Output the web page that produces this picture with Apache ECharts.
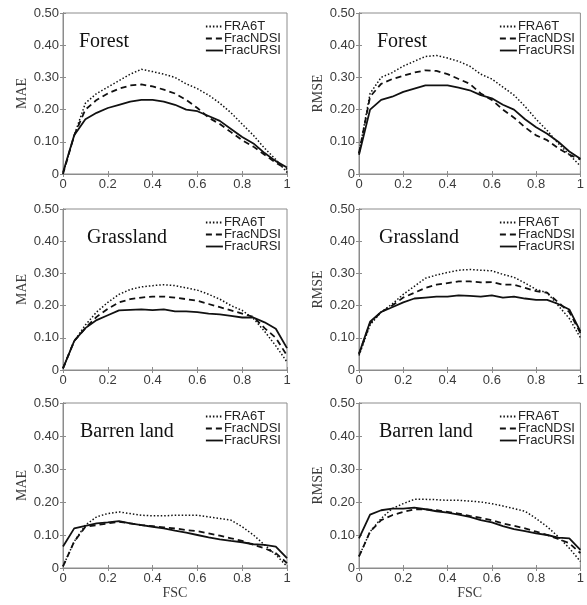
<!DOCTYPE html>
<html>
<head>
<meta charset="utf-8">
<script src="https://cdn.jsdelivr.net/npm/echarts@6/dist/echarts.min.js"></script>
<style>
  html, body { margin: 0; padding: 0; background: #fff; }
  #chart { width: 587px; height: 605px; }
</style>
</head>
<body>
<div id="chart"></div>
<script>
// FSC bins
var fsc = [0, 0.05, 0.1, 0.15, 0.2, 0.25, 0.3, 0.35, 0.4, 0.45, 0.5,
           0.55, 0.6, 0.65, 0.7, 0.75, 0.8, 0.85, 0.9, 0.95, 1]
var seriesNames = ['FRA6T', 'FracNDSI', 'FracURSI']
var panelTitles = ['Forest', 'Forest', 'Grassland', 'Grassland', 'Barren land', 'Barren land']
var metricNames = ['MAE', 'RMSE', 'MAE', 'RMSE', 'MAE', 'RMSE']
var yTicks = [0, 0.1, 0.2, 0.3, 0.4, 0.5]
var xTicks = [0, 0.2, 0.4, 0.6, 0.8, 1]

// Forest
var forestMaeFRA6T = [0, 0.12, 0.22, 0.25, 0.27, 0.29, 0.31, 0.325, 0.318, 0.31, 0.3, 0.28, 0.265, 0.245, 0.22, 0.19, 0.155, 0.12, 0.08, 0.045, 0.005]
var forestMaeNDSI  = [0, 0.12, 0.2, 0.23, 0.25, 0.265, 0.275, 0.278, 0.272, 0.262, 0.25, 0.23, 0.205, 0.175, 0.155, 0.13, 0.105, 0.085, 0.06, 0.035, 0.015]
var forestMaeURSI  = [0.005, 0.12, 0.17, 0.19, 0.205, 0.215, 0.225, 0.23, 0.23, 0.225, 0.215, 0.2, 0.195, 0.18, 0.165, 0.14, 0.115, 0.095, 0.065, 0.04, 0.02]
var forestRmseFRA6T = [0.065, 0.25, 0.3, 0.315, 0.335, 0.35, 0.365, 0.368, 0.36, 0.35, 0.335, 0.31, 0.295, 0.27, 0.245, 0.21, 0.17, 0.135, 0.095, 0.06, 0.025]
var forestRmseNDSI  = [0.065, 0.24, 0.28, 0.295, 0.305, 0.315, 0.322, 0.32, 0.31, 0.295, 0.28, 0.25, 0.23, 0.2, 0.175, 0.145, 0.12, 0.105, 0.08, 0.06, 0.045]
var forestRmseURSI  = [0.06, 0.2, 0.23, 0.24, 0.255, 0.265, 0.275, 0.275, 0.275, 0.268, 0.26, 0.245, 0.235, 0.215, 0.2, 0.17, 0.145, 0.125, 0.1, 0.07, 0.047]

// Grassland
var grassMaeFRA6T = [0.005, 0.09, 0.14, 0.18, 0.21, 0.235, 0.25, 0.258, 0.262, 0.265, 0.262, 0.255, 0.248, 0.235, 0.22, 0.2, 0.185, 0.16, 0.12, 0.075, 0.025]
var grassMaeNDSI  = [0.005, 0.09, 0.13, 0.165, 0.19, 0.21, 0.22, 0.225, 0.228, 0.228, 0.225, 0.22, 0.215, 0.205, 0.195, 0.185, 0.175, 0.165, 0.13, 0.1, 0.045]
var grassMaeURSI  = [0.005, 0.09, 0.13, 0.155, 0.17, 0.185, 0.187, 0.188, 0.186, 0.188, 0.182, 0.182, 0.18, 0.175, 0.173, 0.168, 0.163, 0.163, 0.148, 0.128, 0.068]
var grassRmseFRA6T = [0.045, 0.14, 0.18, 0.205, 0.235, 0.26, 0.285, 0.295, 0.303, 0.31, 0.312, 0.31, 0.308, 0.297, 0.288, 0.27, 0.25, 0.24, 0.2, 0.16, 0.1]
var grassRmseNDSI  = [0.05, 0.145, 0.18, 0.2, 0.225, 0.24, 0.255, 0.265, 0.27, 0.275, 0.275, 0.272, 0.273, 0.265, 0.265, 0.255, 0.245, 0.24, 0.21, 0.18, 0.115]
var grassRmseURSI  = [0.05, 0.15, 0.18, 0.195, 0.21, 0.222, 0.225, 0.228, 0.228, 0.232, 0.23, 0.228, 0.232, 0.225, 0.228, 0.222, 0.218, 0.218, 0.205, 0.188, 0.12]

// Barren land
var barrenMaeFRA6T = [0.005, 0.08, 0.13, 0.155, 0.165, 0.17, 0.165, 0.16, 0.158, 0.158, 0.16, 0.16, 0.16, 0.155, 0.15, 0.145, 0.125, 0.1, 0.07, 0.04, 0.005]
var barrenMaeNDSI  = [0.005, 0.08, 0.125, 0.13, 0.135, 0.14, 0.135, 0.13, 0.127, 0.123, 0.12, 0.115, 0.112, 0.105, 0.098, 0.09, 0.082, 0.07, 0.06, 0.045, 0.015]
var barrenMaeURSI  = [0.065, 0.12, 0.128, 0.135, 0.138, 0.142, 0.135, 0.13, 0.125, 0.12, 0.113, 0.107, 0.1, 0.093, 0.087, 0.082, 0.078, 0.072, 0.07, 0.065, 0.03]
var barrenRmseFRA6T = [0.035, 0.11, 0.15, 0.18, 0.195, 0.208, 0.208, 0.207, 0.205, 0.205, 0.203, 0.2, 0.195, 0.188, 0.18, 0.172, 0.15, 0.125, 0.095, 0.06, 0.02]
var barrenRmseNDSI  = [0.035, 0.11, 0.145, 0.16, 0.17, 0.178, 0.178, 0.175, 0.17, 0.165, 0.158, 0.152, 0.145, 0.135, 0.128, 0.12, 0.11, 0.1, 0.088, 0.075, 0.045]
var barrenRmseURSI  = [0.09, 0.162, 0.175, 0.18, 0.18, 0.183, 0.178, 0.172, 0.168, 0.162, 0.155, 0.145, 0.138, 0.127, 0.118, 0.112, 0.105, 0.1, 0.092, 0.09, 0.055]

var panelData = [
  [forestMaeFRA6T, forestMaeNDSI, forestMaeURSI],
  [forestRmseFRA6T, forestRmseNDSI, forestRmseURSI],
  [grassMaeFRA6T, grassMaeNDSI, grassMaeURSI],
  [grassRmseFRA6T, grassRmseNDSI, grassRmseURSI],
  [barrenMaeFRA6T, barrenMaeNDSI, barrenMaeURSI],
  [barrenRmseFRA6T, barrenRmseNDSI, barrenRmseURSI]
]

var chart = echarts.init(document.getElementById('chart'))

var colLeft = [63, 359]
var colWidth = [224, 223]
var rowTop = [13, 209, 403]
var rowHeight = [161, 161, 165]
var titleLeft = [11, 13, 19, 15, 12, 15]
var lineTypes = [[1.5, 2], [6, 4], 'solid']
var lineWidths = [1.5, 1.8, 1.8]

var axisGray = '#8c8c8c'
var labelColor = '#3a3a3a'
var sans = 'Liberation Sans, Arial, sans-serif'
var serif = 'Liberation Serif, Times New Roman, serif'

var grid = [], xAxis = [], yAxis = [], series = [], legend = [], title = []

for (var p = 0; p < 6; p++) {
  var row = Math.floor(p / 2), col = p % 2
  grid.push({
    left: colLeft[col], top: rowTop[row], width: colWidth[col], height: rowHeight[row],
    show: true, borderColor: axisGray, borderWidth: 1, backgroundColor: 'transparent'
  })
  var xa = {
    type: 'value', gridIndex: p, min: 0, max: 1, interval: 0.2,
    axisLine: { show: true, lineStyle: { color: axisGray } },
    axisTick: { show: true, inside: true, length: 3, lineStyle: { color: axisGray } },
    splitLine: { show: false },
    axisLabel: {
      color: labelColor, fontFamily: sans, fontSize: 13, margin: 4,
      formatter: function (v) { return v === 0 ? '0' : (v === 1 ? '1' : v.toFixed(1)) }
    }
  }
  if (row === 2) {
    xa.name = 'FSC'
    xa.nameLocation = 'middle'
    xa.nameGap = 13
    xa.nameTextStyle = { fontFamily: serif, fontSize: 14, color: labelColor, verticalAlign: 'top' }
  }
  xAxis.push(xa)
  // top ticks (box axis)
  xAxis.push({
    type: 'value', gridIndex: p, min: 0, max: 1, interval: 0.2, position: 'top',
    axisLine: { show: true, lineStyle: { color: axisGray } },
    axisTick: { show: true, inside: true, length: 3, lineStyle: { color: axisGray } },
    splitLine: { show: false }, axisLabel: { show: false }
  })
  yAxis.push({
    type: 'value', gridIndex: p, min: 0, max: 0.5, interval: 0.1,
    name: metricNames[p], nameLocation: 'middle', nameGap: 32, nameRotate: 90,
    nameTextStyle: { fontFamily: serif, fontSize: 14, color: labelColor },
    axisLine: { show: true, lineStyle: { color: axisGray } },
    axisTick: { show: true, inside: true, length: 3, lineStyle: { color: axisGray } },
    splitLine: { show: false },
    axisLabel: {
      color: labelColor, fontFamily: sans, fontSize: 13, margin: 4,
      formatter: function (v) { return v === 0 ? '0' : v.toFixed(2) }
    }
  })
  yAxis.push({
    type: 'value', gridIndex: p, min: 0, max: 0.5, interval: 0.1, position: 'right',
    axisLine: { show: true, lineStyle: { color: axisGray } },
    axisTick: { show: true, inside: true, length: 3, lineStyle: { color: axisGray } },
    splitLine: { show: false }, axisLabel: { show: false }
  })
  for (var s = 0; s < 3; s++) {
    series.push({
      name: seriesNames[s], type: 'line',
      xAxisIndex: p * 2, yAxisIndex: p * 2,
      symbol: 'none', smooth: false,
      lineStyle: { color: '#111', width: lineWidths[s], type: lineTypes[s] },
      itemStyle: { color: '#111' },
      z: 3 - s,
      data: fsc.map(function (x, i) { return [x, panelData[p][s][i]] }),
      animation: false
    })
  }
  legend.push({
    data: seriesNames, orient: 'vertical',
    left: col === 0 ? 200 : 494, top: rowTop[row] + 2,
    itemWidth: 17, itemHeight: 12, itemGap: -1,
    itemStyle: { color: 'transparent', borderWidth: 0, opacity: 0 },
    lineStyle: { width: 1.8 },
    textStyle: { fontFamily: sans, fontSize: 13, color: '#222', lineHeight: 12, padding: [0, 0, 0, -4] },
    selectedMode: false
  })
  title.push({
    text: panelTitles[p],
    left: colLeft[col] + titleLeft[p], top: rowTop[row] + 14,
    textStyle: { fontFamily: serif, fontSize: 20, fontWeight: 'normal', color: '#111' }
  })
}

chart.setOption({
  backgroundColor: '#fff',
  animation: false,
  title: title,
  legend: legend,
  grid: grid,
  xAxis: xAxis,
  yAxis: yAxis,
  series: series
})
</script>
</body>
</html>
